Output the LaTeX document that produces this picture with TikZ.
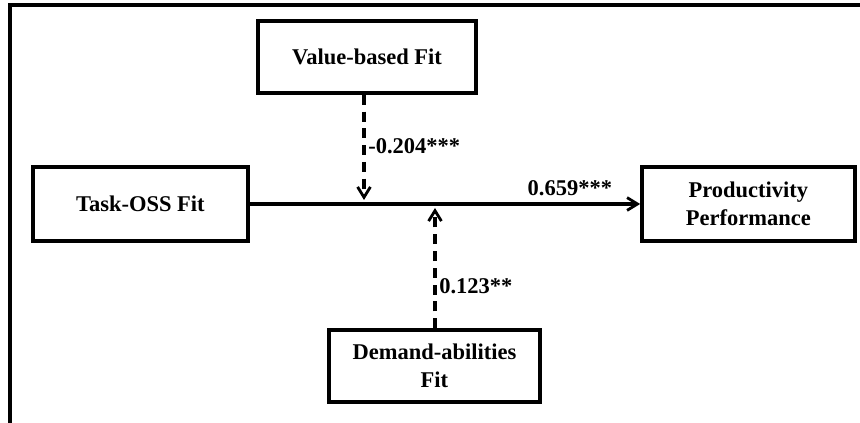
\documentclass[tikz,border=0pt]{standalone}
\usepackage{fontspec}
\setmainfont{Liberation Serif}
\usetikzlibrary{arrows.meta,positioning}

\begin{document}
\begin{tikzpicture}[font=\fontsize{16}{20}\selectfont\bfseries,
  >={Straight Barb[length=2.6mm,width=3.2mm,line width=2pt]},
  box/.style={draw=black,line width=2.5pt,align=center,
              minimum width=53mm,minimum height=18mm,inner sep=2pt},
  fl/.style={->,line width=2.2pt,black},
  mod/.style={->,line width=2.2pt,black,dash pattern=on 2.5mm off 1.7mm},
  lbl/.style={inner sep=1pt,font=\fontsize{16}{18}\selectfont\bfseries}]
\useasboundingbox (0,0) rectangle (21.5,10.575);
% ---------------- frame
\draw[line width=2.8pt] (0.25,-0.1) |- (21.6,10.45);
% ---------------- constructs
\node[box,minimum width=54.5mm] (vb) at (9.175,9.15) {Value-based Fit};
\node[box,minimum width=53.75mm,minimum height=18.5mm] (task) at (3.51,5.475) {Task-OSS Fit};
\node[box,minimum width=53.25mm,minimum height=18.5mm] (prod) at (18.71,5.475) {Productivity\\Performance};
\node[box,minimum width=52.75mm] (da) at (10.86,1.425) {Demand-abilities\\Fit};
% ---------------- paths
\draw[fl] (task) -- node[lbl,pos=0.82,above=4pt] {0.659***} (prod);
\coordinate (m1) at (9.1,5.575);
\coordinate (m2) at (10.875,5.375);
\draw[mod] (vb.south -| m1) -- node[lbl,pos=0.49,right=1pt] {-0.204***} (m1);
\draw[mod] (da.north -| m2) -- node[lbl,pos=0.35,right=1pt] {0.123**} (m2);
\end{tikzpicture}
\end{document}
